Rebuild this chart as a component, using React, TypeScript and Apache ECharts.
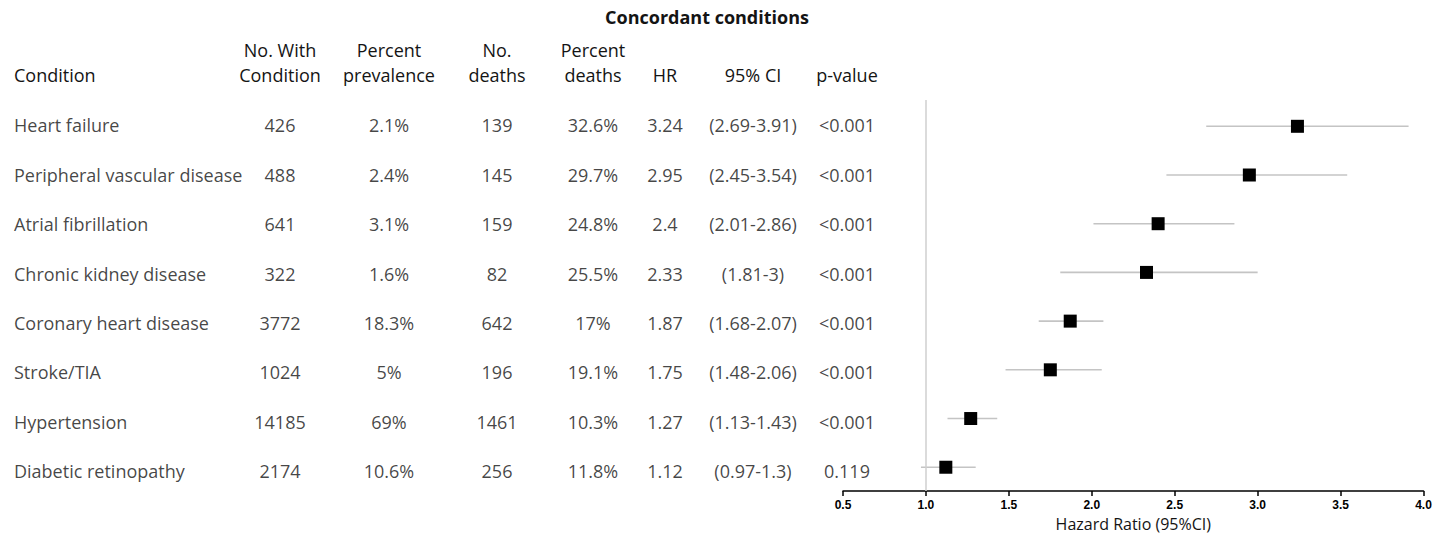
import React, { useEffect, useRef } from "react";
import * as echarts from "echarts";

const conditions = [
  "Heart failure",
  "Peripheral vascular disease",
  "Atrial fibrillation",
  "Chronic kidney disease",
  "Coronary heart disease",
  "Stroke/TIA",
  "Hypertension",
  "Diabetic retinopathy",
];
const noWithCondition = [426, 488, 641, 322, 3772, 1024, 14185, 2174];
const percentPrevalence = ["2.1%", "2.4%", "3.1%", "1.6%", "18.3%", "5%", "69%", "10.6%"];
const noDeaths = [139, 145, 159, 82, 642, 196, 1461, 256];
const percentDeaths = ["32.6%", "29.7%", "24.8%", "25.5%", "17%", "19.1%", "10.3%", "11.8%"];
const hazardRatio = [3.24, 2.95, 2.4, 2.33, 1.87, 1.75, 1.27, 1.12];
const ciLower = [2.69, 2.45, 2.01, 1.81, 1.68, 1.48, 1.13, 0.97];
const ciUpper = [3.91, 3.54, 2.86, 3, 2.07, 2.06, 1.43, 1.3];
const pValues = ["<0.001", "<0.001", "<0.001", "<0.001", "<0.001", "<0.001", "<0.001", "0.119"];
const xTicks = [0.5, 1.0, 1.5, 2.0, 2.5, 3.0, 3.5, 4.0];

const FONT = "Open Sans";
const TEXT_COLOR = "#141414";

// layout constants (pixel positions of table columns)
const colX = {
  condition: 14,
  noWith: 280,
  prev: 389,
  deaths: 497,
  pctDeaths: 593,
  hr: 665,
  ci: 753,
  p: 847,
};

const GRID_TOP = 100;
const GRID_BOTTOM = 537 - 497;
const Y_MIN = -0.54;
const Y_MAX = 7.49;
const FS = 18;

export default function App() {
  const ref = useRef<HTMLDivElement>(null);

  useEffect(() => {
    document.body.style.margin = "0";
    if (!ref.current) return;
    const chart = echarts.init(ref.current, null, { renderer: "svg" });

    const textSeries = (
      name: string,
      x: number,
      values: (string | number)[],
      align: "left" | "center"
    ) => ({
      name,
      type: "scatter",
      xAxisIndex: 1,
      yAxisIndex: 1,
      symbolSize: 0,
      silent: true,
      clip: false,
      data: values.map((v, i) => [x, i, String(v)]),
      label: {
        show: true,
        position: "inside",
        align,
        verticalAlign: "middle",
        offset: [0, -1.5],
        formatter: (p: any) => p.value[2],
        fontFamily: FONT,
        fontSize: FS,
        color: TEXT_COLOR,
      },
    });

    const headerStyle = (x: number, y: number, text: string, align = "center", bold = false, size = FS) => ({
      type: "text",
      x,
      y,
      style: {
        text,
        fontFamily: FONT,
        fontSize: size,
        fontWeight: bold ? "bold" : "normal",
        fill: TEXT_COLOR,
        align,
        verticalAlign: "middle",
      },
    });

    const L1 = 50;
    const L2 = 75;

    chart.setOption({
      animation: false,
      grid: [
        { left: 843, right: 1446 - 1423.5, top: GRID_TOP, bottom: GRID_BOTTOM },
        { left: 0, width: 843, top: GRID_TOP, bottom: GRID_BOTTOM },
      ],
      xAxis: [
        {
          type: "value",
          gridIndex: 0,
          min: xTicks[0],
          max: xTicks[xTicks.length - 1],
          interval: 0.5,
          splitLine: { show: false },
          axisLine: { show: true, onZero: false, lineStyle: { color: "#000", width: 1.5 } },
          axisTick: { show: true, inside: false, length: 5, lineStyle: { color: "#000", width: 1.5 } },
          axisLabel: {
            formatter: (v: number) => v.toFixed(1),
            fontFamily: "Liberation Sans",
            fontWeight: "bold",
            fontSize: 12,
            color: "#000",
            margin: 8,
          },
          name: "Hazard Ratio (95%CI)",
          nameLocation: "middle",
          nameGap: 22,
          nameTextStyle: { fontFamily: FONT, fontSize: 16, color: TEXT_COLOR },
        },
        {
          type: "value",
          gridIndex: 1,
          min: 0,
          max: 843,
          show: false,
        },
      ],
      yAxis: [
        { type: "value", gridIndex: 0, min: Y_MIN, max: Y_MAX, inverse: true, show: false },
        { type: "value", gridIndex: 1, min: Y_MIN, max: Y_MAX, inverse: true, show: false },
      ],
      graphic: [
        headerStyle(707, 17, "Concordant conditions", "center", true, 18),
        headerStyle(colX.condition, L2, "Condition", "left"),
        headerStyle(colX.noWith, L1, "No. With"),
        headerStyle(colX.noWith, L2, "Condition"),
        headerStyle(colX.prev, L1, "Percent"),
        headerStyle(colX.prev, L2, "prevalence"),
        headerStyle(colX.deaths, L1, "No."),
        headerStyle(colX.deaths, L2, "deaths"),
        headerStyle(colX.pctDeaths, L1, "Percent"),
        headerStyle(colX.pctDeaths, L2, "deaths"),
        headerStyle(colX.hr, L2, "HR"),
        headerStyle(colX.ci, L2, "95% CI"),
        headerStyle(colX.p, L2, "p-value"),
      ],
      series: [
        {
          name: "CI",
          type: "custom",
          xAxisIndex: 0,
          yAxisIndex: 0,
          data: ciLower.map((lo, i) => [lo, ciUpper[i], i]),
          renderItem: (params: any, api: any) => {
            const a = api.coord([api.value(0), api.value(2)]);
            const b = api.coord([api.value(1), api.value(2)]);
            return {
              type: "line",
              shape: { x1: a[0], y1: a[1], x2: b[0], y2: b[1] },
              style: { stroke: "#c4c4c4", lineWidth: 1.6 },
            };
          },
          z: 2,
        },
        {
          name: "HR",
          type: "scatter",
          xAxisIndex: 0,
          yAxisIndex: 0,
          symbol: "rect",
          symbolSize: 13,
          itemStyle: { color: "#000", opacity: 1 },
          data: hazardRatio.map((h, i) => [h, i]),
          z: 3,
          markLine: {
            silent: true,
            symbol: "none",
            label: { show: false },
            lineStyle: { color: "#cfcfcf", width: 1.5, type: "solid" },
            data: [{ xAxis: 1 }],
          },
        },
        textSeries("Condition", colX.condition, conditions, "left"),
        textSeries("No. With Condition", colX.noWith, noWithCondition, "center"),
        textSeries("Percent prevalence", colX.prev, percentPrevalence, "center"),
        textSeries("No. deaths", colX.deaths, noDeaths, "center"),
        textSeries("Percent deaths", colX.pctDeaths, percentDeaths, "center"),
        textSeries("HR text", colX.hr, hazardRatio.map((h) => String(h)), "center"),
        textSeries("95% CI", colX.ci, ciLower.map((lo, i) => `(${lo}-${ciUpper[i]})`), "center"),
        textSeries("p-value", colX.p, pValues, "center"),
      ],
    });

    return () => chart.dispose();
  }, []);

  return <div ref={ref} style={{ width: 1446, height: 537 }} />;
}
